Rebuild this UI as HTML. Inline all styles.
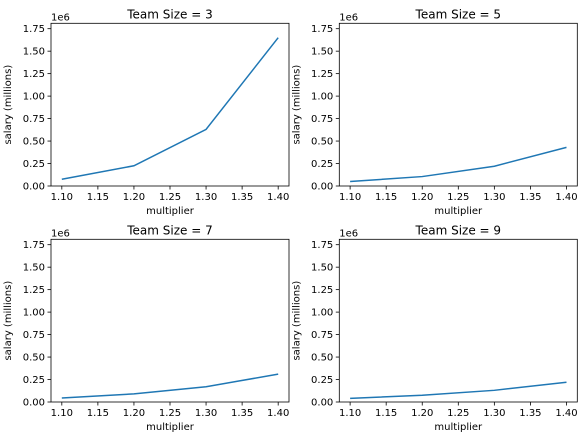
<!DOCTYPE html>
<html><head><meta charset="utf-8"><style>
body{margin:0;background:#fff}
svg text{font-family:"DejaVu Sans","Liberation Sans",sans-serif;fill:#000}
</style></head><body>
<svg id="fig" width="584" height="440" xmlns="http://www.w3.org/2000/svg"></svg>
<script>
const multipliers=[1.10,1.20,1.30,1.40];
const teamSizes=[3,5,7,9];
const salaryTS3=[0.075,0.225,0.63,1.65];
const salaryTS5=[0.05,0.105,0.22,0.43];
const salaryTS7=[0.045,0.09,0.17,0.31];
const salaryTS9=[0.04,0.075,0.13,0.22];
const xTicks=[1.10,1.15,1.20,1.25,1.30,1.35,1.40];
const yTicks=[0,0.25,0.5,0.75,1.0,1.25,1.5,1.75];
const series=[salaryTS3,salaryTS5,salaryTS7,salaryTS9];
const panels=[[51,289,23.3,186],[339.3,577.3,23.3,186],[51,289,239.3,402],[339.3,577.3,239.3,402]];
const svg=document.getElementById('fig');
const NS='http://www.w3.org/2000/svg';
function mk(tag,attrs,parent){const e=document.createElementNS(NS,tag);for(const k in attrs)e.setAttribute(k,attrs[k]);(parent||svg).appendChild(e);return e;}
const xmin=1.085,xmax=1.415,ymin=0,ymax=1.81;
panels.forEach((p,i)=>{
  const [L,R,T,B]=p;
  const g=mk('g',{});
  
  
  const sx=v=>L+(v-xmin)/(xmax-xmin)*(R-L);
  const sy=v=>B-(v-ymin)/(ymax-ymin)*(B-T);
  xTicks.forEach(t=>{
    const x=sx(t);
    mk('line',{x1:x,x2:x,y1:B,y2:B+3.5,stroke:'#000','stroke-width':0.8},g);
    const tx=mk('text',{x:x,y:B+14,'font-size':10,'text-anchor':'middle'},g);
    tx.textContent=t.toFixed(2);
    
    
  });
  yTicks.forEach(t=>{
    const y=sy(t);
    mk('line',{x1:L-3.5,x2:L,y1:y,y2:y,stroke:'#000','stroke-width':0.8},g);
    const ty=mk('text',{x:L-6,y:y+3.5,'font-size':10,'text-anchor':'end'},g);
    ty.textContent=t.toFixed(2);
    
    
  });
  const pts=multipliers.map((m,j)=>sx(m)+','+sy(series[i][j])).join(' ');
  const line=mk('polyline',{points:pts,fill:'none',stroke:'#1f77b4','stroke-width':1.5},g);
  
  
  const rect=mk('rect',{x:L,y:T,width:R-L,height:B-T,fill:'none',stroke:'#000','stroke-width':0.8},g);
  
  
  const ti=mk('text',{x:(L+R)/2,y:T-5,'font-size':12,'text-anchor':'middle'},g);
  ti.textContent='Team Size = '+teamSizes[i];
  
  
  const xl=mk('text',{x:(L+R)/2,y:B+28,'font-size':10,'text-anchor':'middle'},g);
  xl.textContent='multiplier';
  
  
  const yl=mk('text',{x:0,y:0,'font-size':10,'text-anchor':'middle',transform:'translate('+(L-40)+','+((T+B)/2)+') rotate(-90)'},g);
  yl.textContent='salary (millions)';
  
  
  const off=mk('text',{x:L,y:T-3,'font-size':10},g);
  off.textContent='1e6';
  
  
});
</script>
</body></html>
